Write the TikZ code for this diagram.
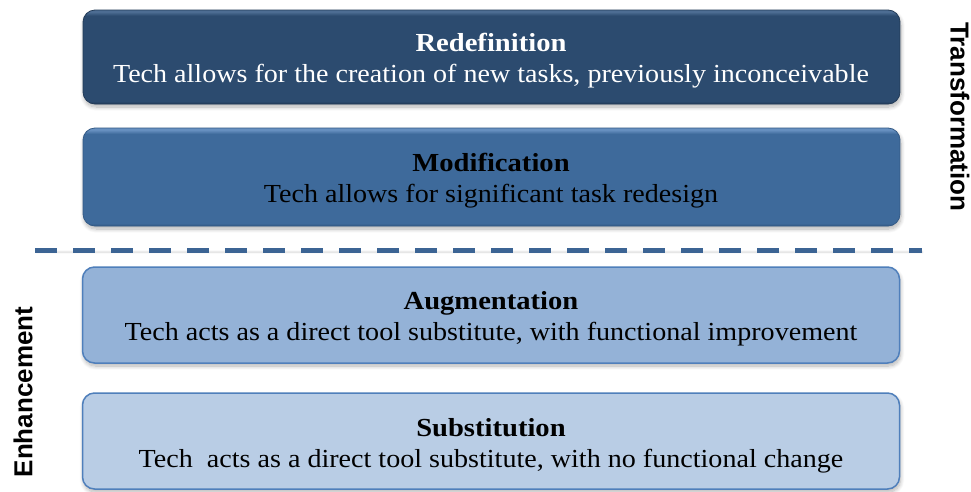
\documentclass[tikz,border=0pt]{standalone}
\usepackage{fontspec}
\setmainfont{Liberation Serif}
\newfontfamily\sidefont{Liberation Sans}
\usetikzlibrary{shadows.blur}

\definecolor{redefFill}{HTML}{2C4B6F}
\definecolor{redefEdge}{HTML}{223B58}
\definecolor{redefLight}{HTML}{4D6D93}
\definecolor{modFill}{HTML}{3E6A9B}
\definecolor{modEdge}{HTML}{335A86}
\definecolor{modLight}{HTML}{6790C0}
\definecolor{augFill}{HTML}{94B2D7}
\definecolor{subFill}{HTML}{B9CDE5}
\definecolor{lightEdge}{HTML}{4F7FBB}
\definecolor{dashBlue}{HTML}{3C6494}

% bevelled fills for the two dark levels
\pgfdeclareverticalshading{redefshade}{100bp}{color(0bp)=(redefEdge); color(25bp)=(redefEdge); color(26.5bp)=(redefFill); color(72bp)=(redefFill); color(74bp)=(redefLight); color(75bp)=(redefLight); color(100bp)=(redefLight)}
\pgfdeclareverticalshading{modshade}{100bp}{color(0bp)=(modEdge); color(25bp)=(modEdge); color(26.5bp)=(modFill); color(72bp)=(modFill); color(74bp)=(modLight); color(75bp)=(modLight); color(100bp)=(modLight)}

\tikzset{
  levelbox/.style={rounded corners=12pt, minimum width=817pt, inner sep=0pt,
    blur shadow={shadow xshift=1pt, shadow yshift=-3pt, shadow blur steps=10,
      shadow blur radius=4pt, shadow blur extra rounding=3pt, shadow opacity=30}},
  titletext/.style={anchor=base, font=\fontsize{26}{30}\selectfont\bfseries, inner sep=0pt,
    xscale=1.1, transform shape},
  bodytext/.style={anchor=base, font=\fontsize{26}{30}\selectfont, inner sep=0pt,
    xscale=1.08, transform shape},
  sidetext/.style={font=\sidefont\fontsize{26}{30}\selectfont\bfseries, inner sep=0pt},
}

\begin{document}
\begin{tikzpicture}[x=1pt, y=-1pt]
\useasboundingbox (0,0) rectangle (971,491);

% the four levels, top to bottom
\node[levelbox, shading=redefshade, draw=redefEdge, line width=0.8pt, minimum height=94pt] (redef) at (491.5,57) {};
\node[levelbox, shading=modshade, draw=modEdge, line width=0.8pt, minimum height=98pt] (modif) at (491.5,177) {};
\node[levelbox, fill=augFill, draw=lightEdge, line width=1.5pt, minimum height=96pt] (augm) at (491,315) {};
\node[levelbox, fill=subFill, draw=lightEdge, line width=1.5pt, minimum height=96pt] (subst) at (491,441) {};

% texts of each level
\node[titletext, text=white] (redefT) at (491,51) {Redefinition};
\node[bodytext, text=white] (redefB) at (491,82) {Tech allows for the creation of new tasks, previously inconceivable};
\node[titletext, text=black] (modifT) at (491,171) {Modification};
\node[bodytext, text=black] (modifB) at (491,202) {Tech allows for significant task redesign};
\node[titletext, text=black] (augmT) at (491,309) {Augmentation};
\node[bodytext, text=black] (augmB) at (491,340) {Tech acts as a direct tool substitute, with functional improvement};
\node[titletext, text=black] (substT) at (491,436) {Substitution};
\node[bodytext, text=black] (substB) at (491,467) {Tech\ \ acts as a direct tool substitute, with no functional change};

% divider between enhancement and transformation
\coordinate (divL) at (35,250);
\coordinate (divR) at (922,250);
\draw[dashBlue, line width=5pt, dash pattern=on 22pt off 16pt,
  blur shadow={shadow xshift=1pt, shadow yshift=-2pt, shadow opacity=20}] (divL) -- (divR);

% side labels
\node[sidetext, rotate=90] (enh) at (23,392) {Enhancement};
\node[sidetext, rotate=-90] (trans) at (960,117) {Transformation};
\end{tikzpicture}
\end{document}
